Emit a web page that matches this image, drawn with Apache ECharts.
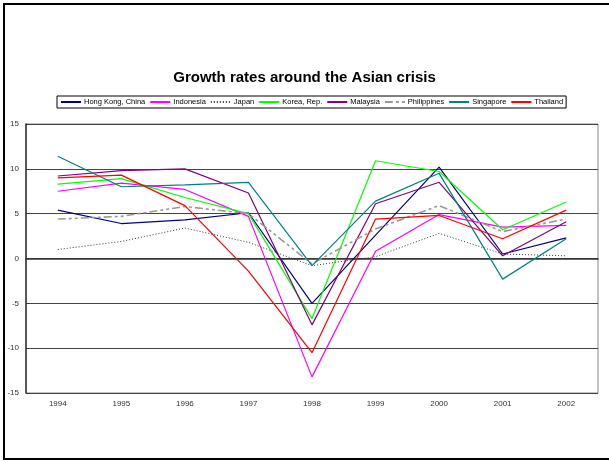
<!DOCTYPE html>
<html>
<head>
<meta charset="utf-8">
<script src="https://cdn.jsdelivr.net/npm/echarts@6/dist/echarts.min.js"></script>
<style>
  html, body { margin: 0; padding: 0; background: #fff; }
  #chart { width: 609px; height: 461px; }
</style>
</head>
<body>
<div id="chart"></div>
<script>
// values
var years = ["1994", "1995", "1996", "1997", "1998", "1999", "2000", "2001", "2002"];
var hongKong = [5.4, 3.9, 4.3, 5.1, -5.0, 2.6, 10.2, 0.5, 2.3];
var indonesia = [7.5, 8.4, 7.7, 4.7, -13.2, 0.8, 4.9, 3.5, 3.7];
var japan = [1.0, 1.9, 3.4, 1.8, -0.8, 0.2, 2.8, 0.5, 0.3];
var korea = [8.3, 8.9, 6.8, 5.0, -6.7, 10.9, 9.7, 3.2, 6.3];
var malaysia = [9.2, 9.8, 10.0, 7.3, -7.4, 6.1, 8.5, 0.3, 4.1];
var philippines = [4.4, 4.7, 5.8, 5.0, -0.6, 3.3, 5.9, 3.0, 4.4];
var singapore = [11.4, 8.0, 8.2, 8.5, -0.8, 6.4, 9.5, -2.3, 2.2];
var thailand = [9.0, 9.3, 5.9, -1.4, -10.5, 4.4, 4.8, 2.2, 5.4];

var yTicks = [-15, -10, -5, 0, 5, 10, 15];

function line(name, data, color, type, width) {
    return {
        name: name,
        type: "line",
        data: data,
        symbol: "none",
        animation: false,
        lineStyle: { color: color, width: width || 1.2, type: type || "solid" },
        itemStyle: { color: color }
    };
}

var chart = echarts.init(document.getElementById("chart"));
chart.setOption({
    textStyle: { fontFamily: "Liberation Sans" },
    title: {
        text: "Growth rates around the Asian crisis",
        left: "center",
        top: 65,
        textStyle: { fontSize: 15, fontWeight: "bold", color: "#000" }
    },
    legend: {
        left: 57,
        top: 96,
        width: 520,
        padding: [2, 3],
        itemGap: 4,
        itemWidth: 20,
        itemHeight: 8,
        borderColor: "#000",
        borderWidth: 1,
        itemStyle: { opacity: 0 },
        textStyle: { fontSize: 7.5, color: "#000", padding: [0, 0, 0, -2] }
    },
    graphic: [{
        type: "rect",
        shape: { x: 4, y: 4, width: 700, height: 455 },
        style: { fill: "none", stroke: "#000", lineWidth: 2 }
    }],
    grid: {
        left: 26, right: 11, top: 124, bottom: 68,
        show: true, borderColor: "#888", borderWidth: 1
    },
    xAxis: {
        type: "category",
        data: years,
        boundaryGap: true,
        axisLine: { onZero: true, lineStyle: { color: "#333", width: 1.5 } },
        axisTick: { inside: true, length: 3, lineStyle: { color: "#333" } },
        axisLabel: { fontSize: 8, color: "#333", margin: 7 },
        splitLine: { show: false }
    },
    yAxis: {
        type: "value",
        min: yTicks[0],
        max: yTicks[yTicks.length - 1],
        interval: 5,
        axisLine: { show: true, lineStyle: { color: "#333", width: 1.5 } },
        axisTick: { show: true, inside: true, length: 3, lineStyle: { color: "#333" } },
        axisLabel: { fontSize: 8, color: "#333", margin: 7 },
        splitLine: { show: true, lineStyle: { color: "#444", width: 1 } }
    },
    series: [
        line("Hong Kong, China", hongKong, "#000080"),
        line("Indonesia", indonesia, "#ff00ff"),
        line("Japan", japan, "#333333", [1, 2], 1),
        line("Korea, Rep.", korea, "#00ff00"),
        line("Malaysia", malaysia, "#800080"),
        line("Philippines", philippines, "#999999", [8, 3, 3, 3, 3, 3], 1.6),
        line("Singapore", singapore, "#008080"),
        line("Thailand", thailand, "#ff0000")
    ]
});
window.addEventListener("resize", function () {
    chart.resize();
});
</script>
</body>
</html>
